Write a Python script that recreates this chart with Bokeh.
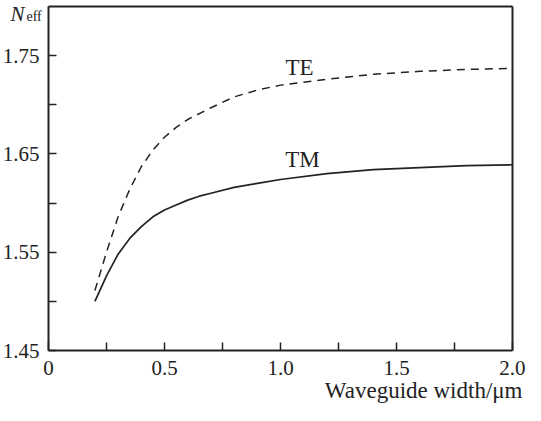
from bokeh.plotting import figure
from bokeh.models import FixedTicker, Label, Range1d, LinearAxis
from bokeh.embed import file_html
from bokeh.resources import INLINE

# ---- data ----
te_x = [0.2, 0.25, 0.3, 0.35, 0.4, 0.45, 0.5, 0.55, 0.6, 0.7, 0.8, 0.9, 1.0, 1.2, 1.4, 1.6, 1.8, 2.0]
te_y = [1.511, 1.550, 1.586, 1.614, 1.637, 1.654, 1.667, 1.677, 1.685, 1.697, 1.708, 1.715, 1.720, 1.726, 1.731, 1.734, 1.736, 1.737]
tm_x = [0.2, 0.25, 0.3, 0.35, 0.4, 0.45, 0.5, 0.55, 0.6, 0.65, 0.7, 0.8, 0.9, 1.0, 1.2, 1.4, 1.6, 1.8, 2.0]
tm_y = [1.500, 1.526, 1.548, 1.564, 1.576, 1.586, 1.593, 1.598, 1.603, 1.607, 1.610, 1.616, 1.620, 1.624, 1.630, 1.634, 1.636, 1.638, 1.639]

x_ticks = [0, 0.5, 1.0, 1.5, 2.0]
x_tick_labels = ["0", "0.5", "1.0", "1.5", "2.0"]
x_minor = [0.25, 0.75, 1.25, 1.75]
y_ticks = [1.45, 1.55, 1.65, 1.75]
y_tick_labels = ["1.45", "1.55", "1.65", "1.75"]
y_minor = [1.50, 1.60, 1.70]
x_lo, x_hi = 0.0, 2.0
y_lo, y_hi = 1.45, 1.80

FONT = "Liberation Serif"
INK = "#222222"

W, H = 525, 405
FL, FR, FT, FB = 48, 512, 6, 350          # frame box in pixels
sx = (FR - FL) / (x_hi - x_lo)
sy = (FB - FT) / (y_hi - y_lo)
xr = Range1d(x_lo - FL / sx, x_hi + (W - FR) / sx)
yr = Range1d(y_lo - (H - FB) / sy, y_hi + FT / sy)


def dx(px):
    return x_lo + (px - FL) / sx


def dy(py):
    return y_hi - (py - FT) / sy


p = figure(width=W, height=H, output_backend="svg", toolbar_location=None,
           x_range=xr, y_range=yr,
           min_border_left=0, min_border_right=0, min_border_top=0, min_border_bottom=0)
p.grid.visible = False
p.outline_line_color = None
p.background_fill_color = "white"
p.border_fill_color = "white"


def style(ax):
    ax.axis_line_width = 2
    ax.axis_line_color = INK
    ax.major_tick_in = 8
    ax.major_tick_out = 0
    ax.minor_tick_in = 8
    ax.minor_tick_out = 0
    ax.major_tick_line_width = 1.5
    ax.minor_tick_line_width = 1.5
    ax.major_tick_line_color = INK
    ax.minor_tick_line_color = INK
    ax.major_label_text_font = FONT
    ax.major_label_text_font_size = "21px"
    ax.major_label_text_color = INK


xa = p.xaxis[0]
ya = p.yaxis[0]
style(xa)
style(ya)
xa.fixed_location = y_lo
xa.bounds = (x_lo, x_hi)
xa.ticker = FixedTicker(ticks=x_ticks, minor_ticks=x_minor)
xa.major_label_overrides = {t: l for t, l in zip(x_ticks, x_tick_labels)}
xa.major_label_standoff = 10
ya.fixed_location = x_lo
ya.bounds = (y_lo, y_hi)
ya.ticker = FixedTicker(ticks=y_ticks, minor_ticks=y_minor)
ya.major_label_overrides = {t: l for t, l in zip(y_ticks, y_tick_labels)}
ya.major_label_standoff = 9

top = LinearAxis(fixed_location=y_hi, bounds=(x_lo, x_hi), ticker=FixedTicker(ticks=[], minor_ticks=[]))
right = LinearAxis(fixed_location=x_hi, bounds=(y_lo, y_hi), ticker=FixedTicker(ticks=[], minor_ticks=[]))
for ax in (top, right):
    ax.axis_line_width = 2
    ax.axis_line_color = INK
    ax.major_label_text_alpha = 0
p.add_layout(top, "above")
p.add_layout(right, "right")

p.line(te_x, te_y, line_color=INK, line_width=1.5, line_dash="8 6")
p.line(tm_x, tm_y, line_color=INK, line_width=1.7)

p.add_layout(Label(x=dx(299), y=dy(67), text="TE", text_font=FONT, text_font_size="23px",
                   text_color=INK, text_align="center", text_baseline="alphabetic"))
p.add_layout(Label(x=dx(302), y=dy(159), text="TM", text_font=FONT, text_font_size="23px",
                   text_color=INK, text_align="center", text_baseline="alphabetic"))
p.add_layout(Label(x=dx(10), y=dy(13), text="N", text_font=FONT, text_font_size="21px",
                   text_font_style="italic", text_color=INK, text_align="left",
                   text_baseline="alphabetic"))
p.add_layout(Label(x=dx(26), y=dy(16), text="eff", text_font=FONT, text_font_size="14px",
                   text_color=INK, text_align="left", text_baseline="alphabetic"))
p.add_layout(Label(x=dx(522), y=dy(390), text="Waveguide width/\u03bcm", text_font=FONT,
                   text_font_size="23px", text_color=INK, text_align="right",
                   text_baseline="alphabetic"))

open("out.html", "w").write(file_html(p, INLINE))
